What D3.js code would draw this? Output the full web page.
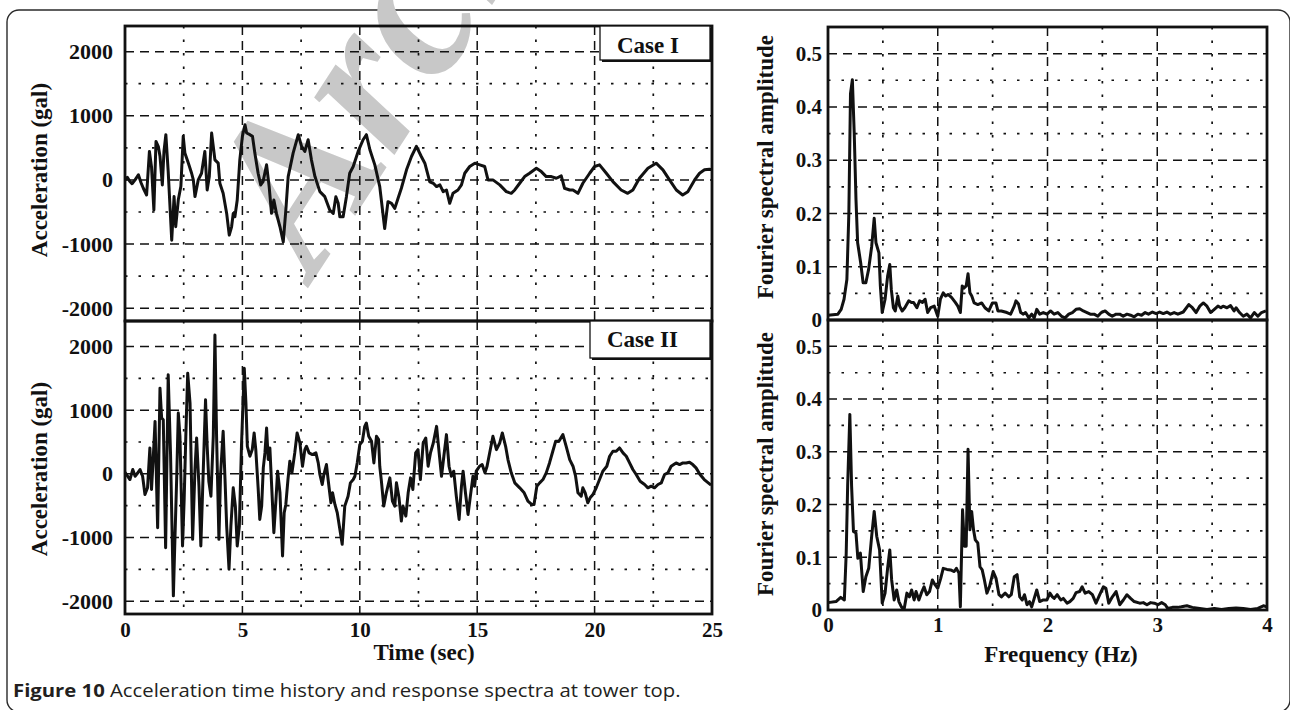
<!DOCTYPE html>
<html><head><meta charset="utf-8">
<script src="https://cdn.jsdelivr.net/npm/d3@7"></script>
<style>body{margin:0;background:#fff}svg{display:block}</style>
</head><body>
<svg id="c" width="1290" height="710"></svg>
<script>
// ---------- data ----------
const timeTicks = [0,5,10,15,20,25];
const accTicks = [-2000,-1000,0,1000,2000];
const freqTicks = [0,1,2,3,4];
const ampTicks = [0,0.1,0.2,0.3,0.4,0.5];
const caseLabels = ["Case I","Case II"];

// Case I acceleration time history [time (s), acceleration (gal)]
const caseI = [[0,0],[0.1,40],[0.2,-20],[0.3,-60],[0.43,0],[0.57,80],[0.68,-40],[0.78,-130],[0.92,-235],[1.04,444],[1.13,200],[1.23,-470],[1.32,600],[1.42,520],[1.49,370],[1.59,-78],[1.66,444],[1.74,705],[1.84,130],[1.99,-940],[2.09,-260],[2.16,-730],[2.27,-310],[2.38,-100],[2.48,680],[2.55,420],[2.70,260],[2.84,100],[2.91,0],[2.98,-260],[3.12,0],[3.26,104],[3.40,444],[3.50,-157],[3.59,52],[3.69,730],[3.83,313],[3.97,261],[4.04,-52],[4.18,-209],[4.33,-522],[4.44,-861],[4.54,-731],[4.61,-522],[4.68,-574],[4.78,-313],[4.89,313],[5.0,680],[5.11,860],[5.18,731],[5.32,705],[5.43,679],[5.53,418],[5.67,104],[5.78,-78],[5.88,-26],[6.03,235],[6.14,-104],[6.24,-520],[6.34,-313],[6.45,-522],[6.60,-731],[6.74,-966],[6.85,-470],[6.95,52],[7.16,418],[7.38,705],[7.52,522],[7.66,444],[7.80,626],[7.94,313],[8.09,52],[8.30,-183],[8.51,-261],[8.72,-470],[8.87,-522],[8.98,-261],[9.08,-365],[9.15,-574],[9.29,-574],[9.43,-261],[9.57,104],[9.72,209],[9.93,444],[10.14,626],[10.28,705],[10.43,470],[10.64,235],[10.85,-104],[11.06,-757],[11.20,-339],[11.35,-365],[11.49,-444],[11.63,-287],[11.77,-130],[11.99,157],[12.20,365],[12.41,522],[12.62,365],[12.77,261],[12.98,-30],[13.13,-52],[13.27,-104],[13.41,-78],[13.55,-183],[13.69,-157],[13.83,-365],[13.97,-209],[14.18,-157],[14.33,-78],[14.47,104],[14.68,209],[14.90,261],[15.11,235],[15.32,209],[15.46,0],[15.67,0],[15.96,-78],[16.24,-183],[16.45,-209],[16.60,-157],[16.81,-52],[17.02,52],[17.23,104],[17.52,183],[17.73,130],[17.94,52],[18.16,52],[18.37,26],[18.58,63],[18.72,-130],[18.94,-157],[19.08,-157],[19.29,-209],[19.50,-52],[19.79,104],[20.0,209],[20.21,235],[20.50,104],[20.78,-26],[21.13,-157],[21.41,-209],[21.63,-157],[21.91,26],[22.27,183],[22.62,261],[22.91,157],[23.19,0],[23.48,-157],[23.75,-235],[23.97,-183],[24.26,0],[24.47,104],[24.68,157],[24.89,167],[25,160]];

// Case II acceleration time history [time (s), acceleration (gal)]
const caseII = [[0,26],[0.21,-89],[0.33,68],[0.43,-37],[0.52,5],[0.64,68],[0.75,-37],[0.85,-323],[0.96,-219],[1.06,407],[1.13,-245],[1.21,303],[1.28,824],[1.39,-845],[1.49,1346],[1.56,877],[1.63,850],[1.73,-1158],[1.84,1555],[1.94,303],[2.06,-1915],[2.13,-976],[2.20,-89],[2.27,955],[2.34,590],[2.45,-1132],[2.52,-402],[2.59,590],[2.67,1580],[2.77,1111],[2.88,-1028],[2.98,68],[3.05,563],[3.15,-193],[3.23,-1132],[3.33,15],[3.43,1163],[3.50,433],[3.57,-115],[3.66,-350],[3.76,590],[3.83,2181],[3.90,590],[4.0,-1028],[4.07,-10],[4.18,668],[4.26,-89],[4.33,-819],[4.43,-1497],[4.51,-819],[4.61,-219],[4.70,-506],[4.78,-1132],[4.87,-819],[4.96,433],[5.08,1659],[5.15,1111],[5.21,433],[5.32,277],[5.42,381],[5.50,642],[5.57,381],[5.67,-219],[5.74,-715],[5.82,-506],[5.89,94],[5.96,329],[6.03,720],[6.10,225],[6.17,407],[6.24,-141],[6.34,-923],[6.43,-402],[6.50,42],[6.60,-297],[6.71,-1289],[6.78,-611],[6.85,-480],[6.94,-89],[7.02,198],[7.11,16],[7.23,329],[7.33,642],[7.45,485],[7.56,120],[7.66,381],[7.73,433],[7.84,329],[7.98,303],[8.13,329],[8.23,172],[8.30,-10],[8.40,-167],[8.47,-10],[8.58,146],[8.65,-89],[8.77,-454],[8.84,-297],[8.94,-480],[9.04,-610],[9.15,-871],[9.25,-1106],[9.36,-506],[9.50,-350],[9.60,-141],[9.72,-89],[9.79,-37],[9.89,172],[10.0,459],[10.11,511],[10.21,746],[10.28,798],[10.38,590],[10.50,511],[10.60,172],[10.71,590],[10.80,537],[10.85,120],[10.92,-115],[11.02,-506],[11.13,-297],[11.28,-63],[11.39,-428],[11.49,-506],[11.56,-141],[11.67,-376],[11.77,-741],[11.84,-506],[11.96,-663],[12.06,-297],[12.16,-63],[12.26,-245],[12.38,329],[12.48,381],[12.58,-89],[12.70,485],[12.81,563],[12.91,120],[13.01,329],[13.13,485],[13.27,746],[13.38,329],[13.48,-37],[13.58,277],[13.69,616],[13.80,120],[13.90,-37],[14.0,42],[14.11,-350],[14.23,-715],[14.33,-193],[14.40,42],[14.50,-297],[14.61,-637],[14.71,-350],[14.82,-37],[14.89,-193],[14.96,42],[15.10,120],[15.21,146],[15.33,16],[15.42,120],[15.53,329],[15.67,590],[15.82,381],[15.96,485],[16.07,642],[16.21,433],[16.31,224],[16.45,16],[16.60,-141],[16.81,-219],[17.0,-297],[17.16,-428],[17.32,-480],[17.42,-480],[17.54,-193],[17.66,-141],[17.80,-89],[17.94,16],[18.08,172],[18.22,355],[18.34,511],[18.48,511],[18.65,616],[18.79,433],[18.94,224],[19.08,120],[19.19,-37],[19.29,-297],[19.43,-350],[19.50,-219],[19.60,-297],[19.71,-454],[19.81,-376],[19.93,-323],[20.07,-219],[20.21,-89],[20.35,42],[20.52,120],[20.64,277],[20.78,355],[20.92,355],[21.06,407],[21.21,329],[21.35,277],[21.49,172],[21.63,68],[21.77,-10],[21.94,-115],[22.13,-167],[22.27,-219],[22.41,-193],[22.55,-219],[22.70,-167],[22.84,-141],[22.98,-10],[23.12,16],[23.26,120],[23.47,172],[23.62,146],[23.76,172],[23.90,172],[24.04,183],[24.18,146],[24.32,94],[24.49,-10],[24.67,-89],[24.96,-177]];

// Fourier spectral amplitude, Case I [frequency (Hz), amplitude]
const spectrumI = [[0,0.009],[0.09,0.011],[0.12,0.02],[0.146,0.039],[0.172,0.076],[0.19,0.2],[0.205,0.425],[0.222,0.451],[0.239,0.35],[0.255,0.226],[0.27,0.145],[0.298,0.107],[0.32,0.07],[0.345,0.07],[0.37,0.095],[0.398,0.138],[0.421,0.191],[0.437,0.145],[0.464,0.126],[0.477,0.064],[0.494,0.014],[0.52,0.039],[0.543,0.082],[0.563,0.104],[0.577,0.057],[0.596,0.023],[0.613,0.017],[0.636,0.045],[0.653,0.026],[0.676,0.017],[0.70,0.023],[0.736,0.036],[0.76,0.033],[0.78,0.033],[0.81,0.023],[0.835,0.036],[0.86,0.033],[0.885,0.039],[0.908,0.014],[0.935,0.023],[0.968,0.026],[1.0,0.007],[1.024,0.039],[1.05,0.051],[1.072,0.045],[1.094,0.048],[1.127,0.042],[1.16,0.033],[1.183,0.026],[1.206,0.014],[1.223,0.064],[1.24,0.06],[1.259,0.064],[1.276,0.087],[1.293,0.051],[1.31,0.045],[1.332,0.032],[1.365,0.029],[1.40,0.032],[1.43,0.023],[1.465,0.017],[1.498,0.032],[1.53,0.032],[1.548,0.017],[1.58,0.017],[1.63,0.014],[1.664,0.011],[1.697,0.026],[1.713,0.036],[1.736,0.03],[1.756,0.014],[1.78,0.011],[1.80,0.014],[1.83,0.004],[1.856,0.011],[1.879,0.004],[1.902,0.02],[1.929,0.011],[1.962,0.014],[1.995,0.011],[2.028,0.017],[2.06,0.011],[2.094,0.014],[2.128,0.007],[2.16,0.004],[2.194,0.011],[2.227,0.014],[2.26,0.02],[2.293,0.021],[2.326,0.017],[2.36,0.014],[2.39,0.011],[2.425,0.011],[2.458,0.007],[2.49,0.014],[2.525,0.017],[2.558,0.011],[2.59,0.007],[2.625,0.011],[2.658,0.011],[2.69,0.007],[2.724,0.011],[2.757,0.009],[2.79,0.006],[2.823,0.011],[2.857,0.009],[2.89,0.014],[2.92,0.011],[2.956,0.015],[2.99,0.012],[3.022,0.015],[3.055,0.012],[3.088,0.015],[3.12,0.011],[3.154,0.014],[3.188,0.011],[3.237,0.015],[3.287,0.029],[3.32,0.023],[3.354,0.014],[3.387,0.026],[3.42,0.032],[3.453,0.026],[3.486,0.014],[3.52,0.02],[3.553,0.026],[3.58,0.023],[3.60,0.026],[3.635,0.023],[3.668,0.027],[3.70,0.017],[3.718,0.023],[3.75,0.014],[3.784,0.007],[3.817,0.011],[3.85,0.004],[3.884,0.014],[3.917,0.007],[3.95,0.014],[3.99,0.017]];

// Fourier spectral amplitude, Case II [frequency (Hz), amplitude]
const spectrumII = [[0,0.014],[0.073,0.016],[0.116,0.024],[0.149,0.019],[0.166,0.108],[0.179,0.235],[0.199,0.371],[0.215,0.235],[0.232,0.149],[0.255,0.146],[0.272,0.098],[0.295,0.108],[0.321,0.035],[0.345,0.063],[0.371,0.079],[0.398,0.14],[0.421,0.187],[0.444,0.14],[0.47,0.114],[0.494,0.013],[0.52,0.032],[0.543,0.079],[0.563,0.114],[0.58,0.057],[0.603,0.019],[0.626,0.038],[0.646,0.016],[0.669,0.006],[0.693,0.001],[0.719,0.032],[0.742,0.025],[0.762,0.038],[0.785,0.019],[0.802,0.035],[0.828,0.019],[0.85,0.032],[0.875,0.044],[0.9,0.029],[0.925,0.035],[0.951,0.057],[0.975,0.048],[1.0,0.041],[1.027,0.06],[1.05,0.079],[1.084,0.077],[1.117,0.076],[1.15,0.073],[1.17,0.079],[1.193,0.07],[1.206,0.006],[1.226,0.19],[1.243,0.121],[1.259,0.121],[1.276,0.305],[1.293,0.152],[1.309,0.187],[1.326,0.152],[1.342,0.133],[1.365,0.127],[1.385,0.082],[1.405,0.076],[1.425,0.057],[1.448,0.032],[1.471,0.044],[1.505,0.073],[1.531,0.06],[1.558,0.029],[1.58,0.025],[1.614,0.032],[1.647,0.025],[1.67,0.029],[1.697,0.063],[1.723,0.067],[1.747,0.025],[1.77,0.019],[1.79,0.029],[1.813,0.01],[1.836,0.016],[1.856,0.006],[1.879,0.022],[1.902,0.038],[1.929,0.016],[1.962,0.019],[1.995,0.019],[2.022,0.032],[2.045,0.025],[2.061,0.022],[2.088,0.029],[2.121,0.019],[2.144,0.022],[2.178,0.013],[2.204,0.016],[2.234,0.022],[2.26,0.033],[2.293,0.035],[2.316,0.044],[2.343,0.032],[2.376,0.035],[2.409,0.029],[2.442,0.013],[2.476,0.029],[2.509,0.044],[2.532,0.041],[2.558,0.013],[2.591,0.025],[2.625,0.035],[2.658,0.01],[2.691,0.019],[2.724,0.029],[2.757,0.022],[2.79,0.016],[2.84,0.013],[2.873,0.014],[2.906,0.01],[2.94,0.014],[2.973,0.013],[3.006,0.01],[3.04,0.014],[3.073,0.01],[3.095,0.003],[3.138,0.005],[3.188,0.005],[3.22,0.006],[3.27,0.008],[3.32,0.005],[3.387,0.003],[3.453,0.001],[3.52,0.003],[3.586,0.001],[3.652,0.003],[3.718,0.004],[3.784,0.003],[3.85,0.001],[3.917,0.003],[3.967,0.008],[4.0,0.006]];

// ---------- drawing ----------
const svg = d3.select('#c');
const SERIF = '"Liberation Serif","Times New Roman",Times,serif';

// outer rounded frame
svg.append('rect').attr('x',7).attr('y',10).attr('width',1283).attr('height',702).attr('rx',12)
  .attr('fill','none').attr('stroke','#2a2a2a').attr('stroke-width',1.4);

// watermark
svg.append('text').attr('transform','translate(314,279) rotate(-57)')
  .attr('font-family',SERIF).attr('font-style','italic').attr('font-weight','bold')
  .attr('font-size',215).attr('fill','#c8c8c8').text('Archived');

function panel(cfg){
  const x = d3.scaleLinear().domain(cfg.xDomain).range([cfg.x0,cfg.x1]);
  const y = d3.scaleLinear().domain(cfg.yDomain).range([cfg.y1,cfg.y0]);
  const g = svg.append('g');
  const grid = (vals, vertical, dash, w) => g.append('g').selectAll('line').data(vals).join('line')
      .attr('x1', d => vertical ? x(d) : cfg.x0).attr('x2', d => vertical ? x(d) : cfg.x1)
      .attr('y1', d => vertical ? cfg.y0 : y(d)).attr('y2', d => vertical ? cfg.y1 : y(d))
      .attr('stroke','#111').attr('stroke-width',w).attr('stroke-dasharray',dash);
  grid(cfg.minorY,false,'2.5,11',1.7);
  grid(cfg.minorX,true,'2.5,11',1.7);
  grid(cfg.majorY,false,'9,6',1.5);
  grid(cfg.majorX,true,'9,6',1.5);
  const line = d3.line().x(d=>x(d[0])).y(d=>y(d[1]));
  g.append('path').datum(cfg.data).attr('d',line).attr('fill','none')
    .attr('stroke','#111').attr('stroke-width',3).attr('stroke-linejoin','round');
  g.append('rect').attr('x',cfg.x0).attr('y',cfg.y0).attr('width',cfg.x1-cfg.x0).attr('height',cfg.y1-cfg.y0)
    .attr('fill','none').attr('stroke','#111').attr('stroke-width',2.8);
  // y tick labels
  const ya = g.append('g').attr('transform',`translate(${cfg.x0},0)`)
    .call(d3.axisLeft(y).tickValues(cfg.yTicks).tickSize(0).tickPadding(cfg.yPad).tickFormat(d=>String(d)));
  ya.select('.domain').remove();
  ya.selectAll('text').attr('font-family',SERIF).attr('font-weight','bold').attr('font-size',cfg.yFont).attr('fill','#111');
  if (cfg.xTicks){
    const xa = g.append('g').attr('transform',`translate(0,${cfg.y1})`)
      .call(d3.axisBottom(x).tickValues(cfg.xTicks).tickSize(0).tickPadding(cfg.xPad).tickFormat(d=>String(d)));
    xa.select('.domain').remove();
    xa.selectAll('text').attr('font-family',SERIF).attr('font-weight','bold').attr('font-size',cfg.xFont).attr('fill','#111');
  }
  return {x,y,g};
}

const L = {x0:125,x1:712};
const R = {x0:828,x1:1267};
const leftCommon = {xDomain:[0,25], yDomain:[-2200,2400], majorX:[5,10,15,20], minorX:[2.5,7.5,12.5,17.5,22.5],
  majorY:accTicks, minorY:[-1500,-500,500,1500], yTicks:accTicks, yPad:12, yFont:22, xFont:21, xPad:8};
const rightCommon = {xDomain:[0,4], yDomain:[0,0.55], majorX:[1,2,3], minorX:[0.5,1.5,2.5,3.5],
  majorY:[0.1,0.2,0.3,0.4,0.5], minorY:[0.05,0.15,0.25,0.35,0.45], yTicks:ampTicks, yPad:6, yFont:21, xFont:21, xPad:7};

panel(Object.assign({}, leftCommon, L, {y0:26, y1:321, data:caseI}));
panel(Object.assign({}, leftCommon, L, {y0:321, y1:614, data:caseII, xTicks:timeTicks}));
panel(Object.assign({}, rightCommon, R, {y0:27, y1:320, data:spectrumI}));
panel(Object.assign({}, rightCommon, R, {y0:320, y1:610, data:spectrumII, xTicks:freqTicks}));

// case label boxes
function caseBox(x,y,w,h,label,tx,ty){
  svg.append('rect').attr('x',x+2).attr('y',y+2).attr('width',w).attr('height',h).attr('fill','#111');
  svg.append('rect').attr('x',x).attr('y',y).attr('width',w).attr('height',h).attr('fill','#fff')
    .attr('stroke','#111').attr('stroke-width',1.3);
  svg.append('text').attr('x',tx).attr('y',ty).attr('font-family',SERIF).attr('font-weight','bold')
    .attr('font-size',23).attr('fill','#111').text(label);
}
caseBox(600,26,110,34,caseLabels[0],617,53);
caseBox(590,321,120,37,caseLabels[1],607,347);

// axis titles
function title(x,y,rot,txt){
  svg.append('text').attr('transform',`translate(${x},${y}) rotate(${rot})`).attr('text-anchor','middle')
    .attr('font-family',SERIF).attr('font-weight','bold').attr('font-size',23).attr('fill','#111').text(txt);
}
title(47,170,-90,'Acceleration (gal)');
title(47,469,-90,'Acceleration (gal)');
title(773,167,-90,'Fourier spectral amplitude');
title(773,464,-90,'Fourier spectral amplitude');
title(424,660,0,'Time (sec)');
title(1061,662,0,'Frequency (Hz)');

// caption (condensed horizontally to match the reference width)
const cap = svg.append('text').attr('font-family','"Open Sans","Noto Sans",sans-serif')
  .attr('font-size',18.5).attr('fill','#231f20');
cap.append('tspan').attr('font-weight','bold').text('Figure 10');
cap.append('tspan').text(' Acceleration time history and response spectra at tower top.');
const cw = cap.node().getComputedTextLength();
cap.attr('transform',`translate(13,697) scale(${668/cw},1)`);
</script>
</body></html>
